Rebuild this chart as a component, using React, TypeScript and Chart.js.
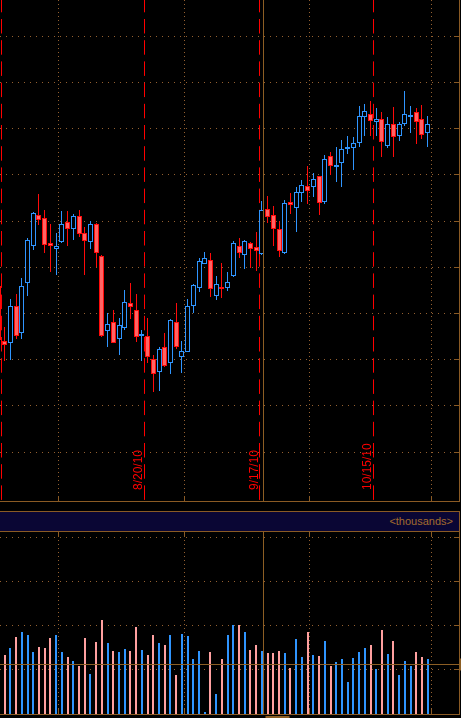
import React, { useEffect, useRef } from 'react';
import { Chart, registerables } from 'chart.js';

Chart.register(...registerables);

// ---------- data ----------
// index of the first candle in the arrays below (a partly hidden candle at the left edge)
const FIRST_CANDLE_INDEX = -1;

const OPEN = [
  23.59, 22.4, 22.36, 23.17, 22.57, 23.65, 24.47, 25.13, 25.06, 24.52,
  24.39, 24.54, 24.97, 24.82, 25.11, 24.75, 24.54, 24.93, 24.24, 22.61,
  22.81, 22.44, 22.69, 23.22, 23.07, 22.52, 22.52, 22.01, 21.74, 22.27,
  21.92, 22.81, 22.05, 22.17, 23.17, 23.55, 24.08, 24.15, 23.38, 23.57,
  23.56, 23.8, 24.45, 24.26, 24.52, 24.43, 24.28, 25.27, 25.12, 24.82,
  24.3, 25.41, 25.29, 25.61, 25.75, 25.73, 25.97, 25.42, 26.4, 26.18,
  26.25, 26.57, 26.58, 26.68, 27.25, 27.31, 27.15, 27.2, 26.63, 27.09,
  26.85, 27.11, 27.26, 27.36, 27.2, 26.9,
];
const HIGH = [
  23.68, 22.71, 23.32, 23.42, 23.76, 24.63, 25.19, 25.58, 25.24, 24.93,
  24.74, 25.21, 25.21, 25.16, 25.24, 24.87, 25.0, 24.95, 24.26, 23.0,
  23.07, 22.9, 23.5, 23.65, 23.43, 22.65, 22.91, 22.1, 22.28, 22.57,
  22.88, 23.22, 22.4, 23.31, 23.63, 24.19, 24.33, 24.31, 23.81, 24.1,
  23.89, 24.56, 24.63, 24.6, 24.54, 24.76, 25.43, 25.54, 25.32, 25.0,
  25.45, 25.6, 25.73, 25.88, 26.19, 26.04, 25.98, 26.43, 26.49, 26.6,
  26.75, 26.84, 26.82, 27.48, 27.53, 27.59, 27.44, 27.36, 27.25, 27.46,
  27.14, 27.81, 27.5, 27.44, 27.51, 27.27,
];
const LOW = [
  22.38, 21.97, 21.99, 22.44, 22.45, 23.38, 24.37, 24.91, 24.3, 23.9,
  23.83, 24.52, 24.46, 24.59, 24.66, 23.83, 24.4, 24.01, 22.48, 22.28,
  22.35, 22.1, 22.64, 22.88, 22.39, 21.98, 21.92, 21.3, 21.33, 21.85,
  21.69, 22.23, 21.72, 22.16, 23.01, 23.46, 24.07, 23.35, 23.3, 23.34,
  23.49, 23.79, 24.21, 23.97, 23.99, 23.92, 24.27, 24.95, 24.46, 24.23,
  24.28, 25.16, 24.77, 25.42, 25.37, 25.52, 25.13, 25.36, 25.99, 25.85,
  25.74, 26.45, 26.11, 26.61, 26.84, 26.84, 26.84, 26.39, 26.58, 26.39,
  26.74, 27.06, 26.91, 26.67, 26.78, 26.61,
];
const CLOSE = [
  22.42, 22.32, 23.16, 22.52, 23.59, 24.59, 25.18, 25.03, 24.49, 24.45,
  24.47, 24.93, 24.82, 25.11, 24.71, 24.56, 24.93, 24.3, 22.52, 22.78,
  22.36, 22.76, 23.24, 23.13, 22.49, 22.54, 22.05, 21.68, 22.23, 21.87,
  22.86, 22.28, 22.18, 23.17, 23.61, 24.13, 24.19, 23.52, 23.63, 23.54,
  23.67, 24.52, 24.3, 24.56, 24.39, 24.36, 25.23, 25.09, 24.83, 24.36,
  25.38, 25.34, 25.62, 25.77, 25.65, 25.9, 25.4, 26.35, 26.2, 26.21,
  26.55, 26.6, 26.68, 27.28, 27.39, 27.16, 27.2, 26.7, 27.09, 26.81,
  27.1, 27.31, 27.28, 27.15, 26.86, 27.09,
];
// volume (thousands), starting at candle index 0
const VOLUME = [
  1341, 1500, 1750, 1864, 1795, 1409, 1523, 1500, 1727, 1795,
  1409, 1295, 1205, 1091, 1727, 909, 1636, 2136, 1614, 1432,
  1409, 1477, 1432, 1977, 1455, 1341, 1795, 1614, 1568, 1795,
  886, 1818, 1773, 1250, 1432, 45, 1409, 455, 1250, 1795,
  2023, 2023, 1864, 1455, 1568, 1432, 1386, 1386, 1432, 1386,
  1045, 1705, 1295, 1864, 1341, 1318, 1659, 1091, 1182, 1250,
  727, 1273, 1409, 1500, 1568, 1023, 1909, 1364, 1659, 886,
  1205, 1091, 1409, 1295, 1250,
];

const PRICE_GRID = [20, 21, 22, 23, 24, 25, 26, 27, 28, 29];
const VOLUME_GRID = [1000, 2000, 3000, 4000];
const MONTH_BOUNDARIES = [9.5, 31.4, 53.4, 74.6];
const WEEK_MARKERS = [-0.6, 24.45, 44.65, 64.45];
const WEEK_LABELS = ['', '8/20/10', '9/17/10', '10/15/10'];
const CROSSHAIR_INDEX = 45.36;
const CROSSHAIR_VOLUME = 1136;
const VOLUME_UNIT_LABEL = '<thousands>';

const X_MIN = -0.822;
const X_MAX = 79.48;
const PRICE_MIN = 18.94;
const PRICE_MAX = 29.784;
const VOLUME_MAX = 4136;

// ---------- styles ----------
const BLUE = '#2f95ff';
const RED = '#ff0a0a';
const RED_FILL = '#ff6464';
const PINK = '#ffa0a0';
const GRID = '#946030';
const AXIS = '#8a5a24';
const CROSS = '#8c5e24';
const BAND_BG = '#0a0634';
const LABEL_FONT = "12px 'Liberation Sans', Arial, sans-serif";

const candleX = OPEN.map((_, k) => FIRST_CANDLE_INDEX + k);
const isUp = (k: number) => CLOSE[k] >= OPEN[k];

// render-time pixel snapping of the bar elements the library laid out
const snapPlugin = {
  id: 'snapBars',
  beforeDatasetsDraw(chart: any) {
    chart.data.datasets.forEach((ds: any, i: number) => {
      const meta = chart.getDatasetMeta(i);
      const minH = ds.label === 'body' ? 2 : 1;
      meta.data.forEach((el: any) => {
        const w = Math.round(el.width);
        el.x = w % 2 === 1 ? Math.floor(el.x) + 0.5 : Math.round(el.x);
        let top = Math.round(Math.min(el.y, el.base));
        let bot = Math.round(Math.max(el.y, el.base));
        if (bot - top < minH) bot = top + minH;
        if (el.y <= el.base) {
          el.y = top;
          el.base = bot;
        } else {
          el.y = bot;
          el.base = top;
        }
      });
    });
  },
};

function drawInwardTicks(chart: any, top: boolean, bottom: boolean) {
  const { ctx, chartArea, scales } = chart;
  ctx.save();
  ctx.strokeStyle = AXIS;
  ctx.lineWidth = 1;
  ctx.setLineDash([]);
  ctx.beginPath();
  scales.y.ticks.forEach((t: any) => {
    const y = Math.round(scales.y.getPixelForValue(t.value) - 0.5) + 0.5;
    ctx.moveTo(chartArea.right - 5, y);
    ctx.lineTo(chartArea.right, y);
  });
  scales.x.ticks.forEach((t: any) => {
    const x = Math.round(scales.x.getPixelForValue(t.value) - 0.5) + 0.5;
    if (bottom) {
      ctx.moveTo(x, chartArea.bottom - 5);
      ctx.lineTo(x, chartArea.bottom);
    }
    if (top) {
      ctx.moveTo(x, chartArea.top);
      ctx.lineTo(x, chartArea.top + 5);
    }
  });
  ctx.stroke();
  ctx.restore();
}

function crosshairX(chart: any) {
  return Math.round(chart.scales.x.getPixelForValue(CROSSHAIR_INDEX) - 0.5) + 0.5;
}

const pricePlugin = {
  id: 'priceDecor',
  beforeDatasetsDraw(chart: any) {
    const { ctx, chartArea, scales } = chart;
    const xs = scales.x;
    ctx.save();
    ctx.strokeStyle = '#ff0000';
    ctx.lineWidth = 1;
    ctx.setLineDash([14.5, 6.7]);
    ctx.lineDashOffset = 2.2;
    WEEK_MARKERS.forEach((v) => {
      const x = Math.round(xs.getPixelForValue(v) - 0.5) + 0.5;
      ctx.beginPath();
      ctx.moveTo(x, chartArea.top);
      ctx.lineTo(x, chartArea.bottom);
      ctx.stroke();
    });
    ctx.setLineDash([]);
    ctx.fillStyle = '#ff0000';
    ctx.font = LABEL_FONT;
    WEEK_MARKERS.forEach((v, i) => {
      const label = WEEK_LABELS[i];
      if (!label) return;
      const x = xs.getPixelForValue(v);
      ctx.save();
      ctx.translate(Math.round(x - 2), chartArea.bottom - 11);
      ctx.rotate(-Math.PI / 2);
      ctx.textAlign = 'left';
      ctx.textBaseline = 'alphabetic';
      ctx.fillText(label, 0, 0);
      ctx.restore();
    });
    ctx.restore();
  },
  afterDatasetsDraw(chart: any) {
    const { ctx, chartArea } = chart;
    const x = crosshairX(chart);
    ctx.save();
    ctx.strokeStyle = CROSS;
    ctx.lineWidth = 1;
    ctx.beginPath();
    ctx.moveTo(x, chartArea.top);
    ctx.lineTo(x, chartArea.bottom);
    ctx.stroke();
    ctx.restore();
  },
  afterDraw(chart: any) {
    drawInwardTicks(chart, false, true);
  },
};

const volumePlugin = {
  id: 'volumeDecor',
  afterDatasetsDraw(chart: any) {
    const { ctx, chartArea, scales } = chart;
    const x = crosshairX(chart);
    const y = Math.round(scales.y.getPixelForValue(CROSSHAIR_VOLUME) - 0.5) + 0.5;
    ctx.save();
    ctx.strokeStyle = CROSS;
    ctx.lineWidth = 1;
    ctx.beginPath();
    ctx.moveTo(x, chartArea.top);
    ctx.lineTo(x, chartArea.bottom);
    ctx.moveTo(chartArea.left, y);
    ctx.lineTo(chartArea.right, y);
    ctx.stroke();
    // crosshair read-out boxes (mostly outside the visible window)
    ctx.fillStyle = CROSS;
    ctx.fillRect(chartArea.right, y - 6, 3, 12);
    ctx.fillRect(x + 2, chartArea.bottom + 2, 24, 3);
    ctx.restore();
  },
  afterDraw(chart: any) {
    drawInwardTicks(chart, true, true);
  },
};

function xScale() {
  return {
    type: 'linear' as const,
    min: X_MIN,
    max: X_MAX,
    offset: false,
    position: 'bottom' as const,
    ticks: { display: false },
    grid: { color: GRID, lineWidth: 1, drawTicks: false, offset: false },
    border: { display: true, color: AXIS, width: 1, dash: [1, 3] },
    afterBuildTicks: (scale: any) => {
      scale.ticks = MONTH_BOUNDARIES.map((value) => ({ value }));
    },
  };
}

export default function App() {
  const priceRef = useRef<HTMLCanvasElement>(null);
  const volRef = useRef<HTMLCanvasElement>(null);

  useEffect(() => {
    const bodyData = candleX.map((x, k) => ({
      x,
      y: [Math.min(OPEN[k], CLOSE[k]), Math.max(OPEN[k], CLOSE[k])],
    }));
    const wickData = candleX.map((x, k) => ({ x, y: [LOW[k], HIGH[k]] }));

    const priceChart = new Chart(priceRef.current as HTMLCanvasElement, {
      type: 'bar',
      data: {
        datasets: [
          {
            label: 'body',
            data: bodyData as any,
            order: 0,
            grouped: false,
            barThickness: 5,
            minBarLength: 1.5,
            inflateAmount: 0,
            borderWidth: 1,
            borderSkipped: false,
            backgroundColor: candleX.map((_, k) => (isUp(k) ? '#000000' : RED_FILL)),
            borderColor: candleX.map((_, k) => (isUp(k) ? BLUE : RED)),
          } as any,
          {
            label: 'wick',
            data: wickData as any,
            order: 1,
            grouped: false,
            barThickness: 1,
            inflateAmount: 0,
            borderWidth: 0,
            backgroundColor: candleX.map((_, k) => (isUp(k) ? BLUE : RED)),
          } as any,
        ],
      },
      options: {
        animation: false,
        responsive: false,
        devicePixelRatio: 1,
        layout: { padding: { left: 0, right: 2, top: 0, bottom: 2 } },
        plugins: { legend: { display: false }, tooltip: { enabled: false }, title: { display: false } },
        scales: {
          x: xScale() as any,
          y: {
            type: 'linear',
            position: 'right',
            min: PRICE_MIN,
            max: PRICE_MAX,
            beginAtZero: false,
            ticks: { display: false },
            grid: { color: GRID, lineWidth: 1, drawTicks: false },
            border: { display: true, color: AXIS, width: 1, dash: [1, 5] },
            afterBuildTicks: (scale: any) => {
              scale.ticks = PRICE_GRID.map((value) => ({ value }));
            },
          } as any,
        },
      },
      plugins: [snapPlugin, pricePlugin],
    });

    const volChart = new Chart(volRef.current as HTMLCanvasElement, {
      type: 'bar',
      data: {
        datasets: [
          {
            label: 'volume',
            data: VOLUME.map((v, i) => ({ x: i, y: v })) as any,
            grouped: false,
            barThickness: 2,
            inflateAmount: 0,
            borderWidth: 0,
            backgroundColor: VOLUME.map((_, i) => (isUp(i - FIRST_CANDLE_INDEX) ? BLUE : PINK)),
          } as any,
        ],
      },
      options: {
        animation: false,
        responsive: false,
        devicePixelRatio: 1,
        layout: { padding: { left: 0, right: 2, top: 0, bottom: 4 } },
        plugins: { legend: { display: false }, tooltip: { enabled: false }, title: { display: false } },
        scales: {
          x: xScale() as any,
          y: {
            type: 'linear',
            position: 'right',
            min: 0,
            max: VOLUME_MAX,
            ticks: { display: false },
            grid: { color: GRID, lineWidth: 1, drawTicks: false },
            border: { display: true, color: AXIS, width: 1, dash: [1, 5] },
            afterBuildTicks: (scale: any) => {
              scale.ticks = VOLUME_GRID.map((value) => ({ value }));
            },
          } as any,
        },
      },
      plugins: [snapPlugin, volumePlugin],
    });

    return () => {
      priceChart.destroy();
      volChart.destroy();
    };
  }, []);

  return (
    <div
      style={{
        position: 'fixed',
        left: 0,
        top: 0,
        width: 461,
        height: 718,
        background: '#000',
        overflow: 'hidden',
      }}
    >
      <canvas
        ref={priceRef}
        width={461}
        height={503}
        style={{ position: 'absolute', left: 0, top: 0, display: 'block' }}
      />
      <div
        style={{
          position: 'absolute',
          left: 0,
          top: 511,
          width: 460,
          height: 21,
          boxSizing: 'border-box',
          background: BAND_BG,
          borderTop: `1px solid ${AXIS}`,
          borderBottom: `1px solid ${AXIS}`,
          borderRight: `1px solid ${AXIS}`,
          display: 'flex',
          alignItems: 'center',
          justifyContent: 'flex-end',
          paddingRight: 6,
          font: "11px 'Liberation Sans', Arial, sans-serif",
          color: '#a36b2e',
          lineHeight: '19px',
        }}
      >
        {VOLUME_UNIT_LABEL}
      </div>
      <canvas
        ref={volRef}
        width={461}
        height={186}
        style={{ position: 'absolute', left: 0, top: 532, display: 'block' }}
      />
    </div>
  );
}
